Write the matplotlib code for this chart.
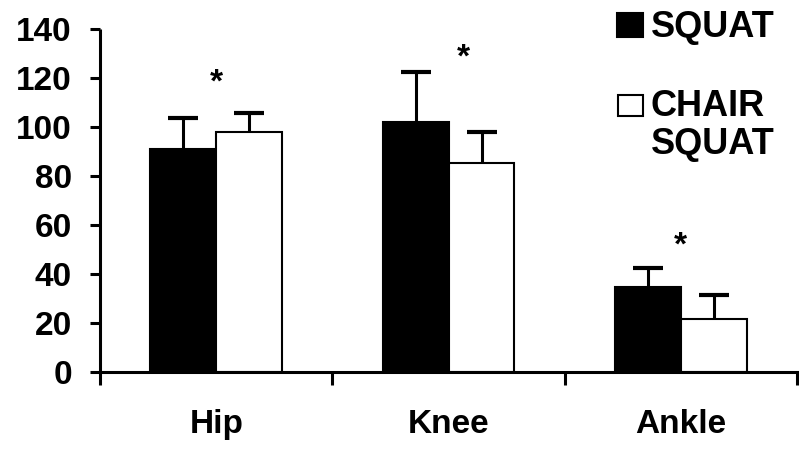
import matplotlib
matplotlib.use("Agg")
import matplotlib.pyplot as plt
import numpy as np
from matplotlib.patches import Rectangle

categories = ["Hip", "Knee", "Ankle"]
squat = [91.0, 102.0, 34.7]
squat_err = [12.8, 20.4, 7.8]
chair = [97.8, 85.3, 21.4]
chair_err = [7.8, 12.7, 9.9]
star_x = [0.0, 1.065, 2.0]
star_y = [117.8, 128.3, 51.3]
yticks = [0, 20, 40, 60, 80, 100, 120, 140]

plt.rcParams['font.family'] = ['Liberation Sans', 'DejaVu Sans']
plt.rcParams['font.weight'] = 'bold'

fig = plt.figure(figsize=(7.99, 4.49), dpi=100)
ax = fig.add_axes([0.1252, 0.1722, 0.8723, 0.7632])

x = np.arange(len(categories))
w = 0.284
ekw = dict(elinewidth=2.2, capsize=11, capthick=3.0, ecolor='black')
b1 = ax.bar(x - w/2, squat, w, color='black', edgecolor='black', linewidth=1.5,
            yerr=[np.zeros(3), squat_err], error_kw=ekw, zorder=2)
b2 = ax.bar(x + w/2, chair, w, color='white', edgecolor='black', linewidth=1.5,
            yerr=[np.zeros(3), chair_err], error_kw=ekw, zorder=2)

# hide the lower caps (one-sided error bars)
for bc, heights in ((b1, squat), (b2, chair)):
    _, caplines, _ = bc.errorbar.lines
    for cl in caplines:
        if np.allclose(cl.get_ydata(), heights):
            cl.set_visible(False)

for sx, sy in zip(star_x, star_y):
    ax.text(sx, sy, "*", ha='center', va='center', fontsize=24, fontweight='bold')

ax.set_xlim(-0.5, 2.5)
ax.set_ylim(0, 140)
ax.set_yticks(yticks)
ax.set_yticklabels([str(v) for v in yticks], fontsize=24, fontweight='bold')
ax.set_xticks(x)
ax.set_xticklabels(categories, fontsize=24, fontweight='bold')
ax.set_xticks([-0.5, 0.5, 1.5, 2.5], minor=True)
ax.tick_params(axis='x', which='major', length=0, pad=27)
ax.tick_params(axis='x', which='minor', length=9.5, width=2.2, direction='out')
ax.tick_params(axis='y', length=7.2, width=2.2, pad=13, direction='out')
for s in ['top', 'right']:
    ax.spines[s].set_visible(False)
for s in ['left', 'bottom']:
    ax.spines[s].set_linewidth(2.2)
ax.spines['left'].set_capstyle('butt')

# legend (manual)
W, H = 799, 449
def fx(px): return px / W
def fy(py): return (H - py) / H
fig.patches.append(Rectangle((fx(617), fy(37)), fx(643) - fx(617), fy(13) - fy(37),
                             transform=fig.transFigure, facecolor='black', edgecolor='black', lw=1.5))
fig.patches.append(Rectangle((fx(618), fy(116)), fx(643) - fx(618), fy(95) - fy(116),
                             transform=fig.transFigure, facecolor='white', edgecolor='black', lw=1.5))
fig.text(fx(651), fy(37), "SQUAT", fontsize=26, fontweight='bold', va='baseline', ha='left')
fig.text(fx(651), fy(116), "CHAIR", fontsize=26, fontweight='bold', va='baseline', ha='left')
fig.text(fx(651), fy(154), "SQUAT", fontsize=26, fontweight='bold', va='baseline', ha='left')

fig.savefig("out.png", dpi=100)
